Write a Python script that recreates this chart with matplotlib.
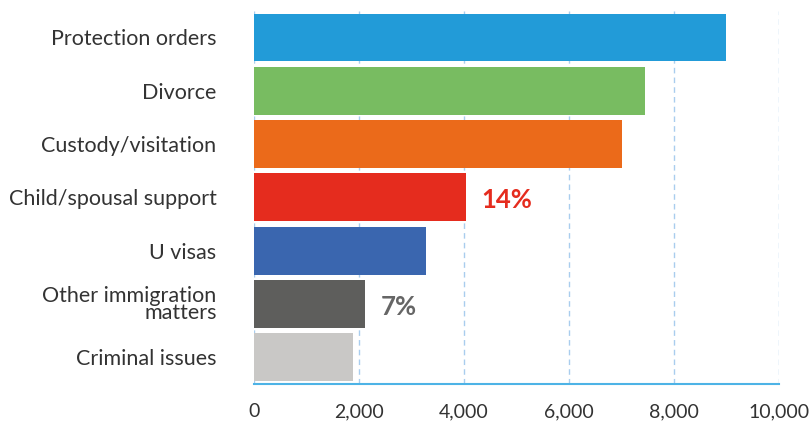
import numpy as np
import matplotlib.pyplot as plt

categories = ["Protection orders", "Divorce", "Custody/visitation",
              "Child/spousal support", "U visas", "Other immigration\nmatters",
              "Criminal issues"]
values = [8990, 7450, 7000, 4030, 3280, 2120, 1880]
colors = ["#229bd8", "#78bc61", "#eb6a1a", "#e52c1e", "#3a66af", "#5e5e5c", "#c9c8c6"]
xticks = [0, 2000, 4000, 6000, 8000, 10000]
notes = {3: ("14%", "#e52c1e"), 5: ("7%", "#666666")}

plt.rcParams['font.family'] = ['Lato', 'DejaVu Sans']

fig = plt.figure(figsize=(8.09, 4.25), dpi=100)
ax = fig.add_axes([0.314, 0.0965, 0.649, 0.878])

y = np.arange(len(categories))
ax.barh(y, values, height=0.9, color=colors, zorder=3)
ax.set_ylim(len(categories) - 0.5, -0.5)
ax.set_xlim(0, 10000)

ax.set_yticks(y)
ax.set_yticklabels(categories, fontsize=15.5, color="#333333", linespacing=0.78)
ax.set_xticks(xticks)
ax.set_xticklabels([f"{v:,}" for v in xticks], fontsize=14, color="#333333")
ax.tick_params(axis="y", length=0, pad=27)
ax.tick_params(axis="x", length=0, pad=14)

ax.grid(axis="x", color="#a9cdee", linestyle=(0, (4, 3)), linewidth=1, zorder=0)
for s in ["top", "right", "left"]:
    ax.spines[s].set_visible(False)
ax.spines["bottom"].set_color("#4db3e6")
ax.spines["bottom"].set_linewidth(1.5)

for i, (txt, c) in notes.items():
    ax.text(values[i] + 300, i + 0.05, txt, color=c, fontsize=18.5,
            fontweight="bold", va="center", ha="left", zorder=4)

fig.savefig("out.png", dpi=100)
